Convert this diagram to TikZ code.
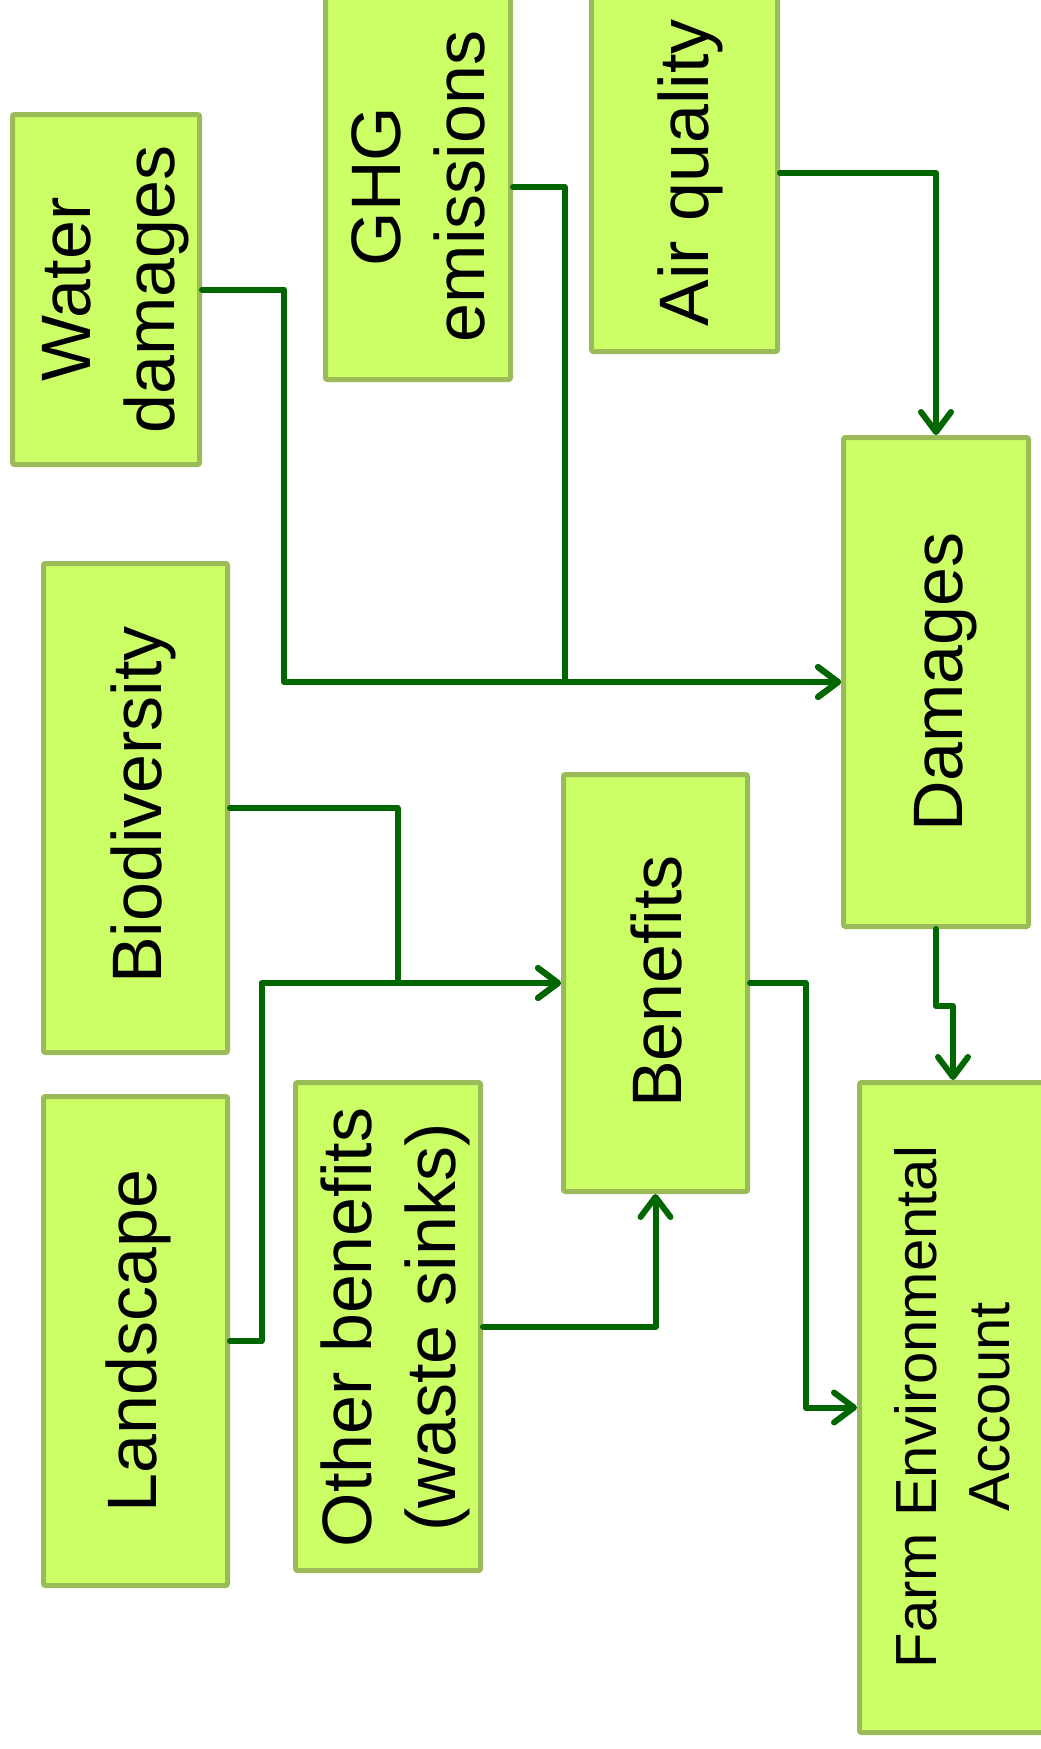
\documentclass[tikz,border=0pt]{standalone}
\usepackage{fontspec}
\setmainfont{Liberation Sans}
\usetikzlibrary{arrows.meta}
\definecolor{boxfill}{HTML}{CCFF66}
\definecolor{boxline}{HTML}{9BBB59}
\definecolor{flow}{HTML}{006600}
\begin{document}
\begin{tikzpicture}[x=1pt,y=-1pt,
  box/.style={draw=boxline, fill=boxfill, line width=5pt, rounded corners=2pt, inner sep=0pt},
  lbl/.style={rotate=90, align=center, inner sep=0pt, font=\fontsize{70}{84}\selectfont},
  small/.style={font=\fontsize{58}{73}\selectfont},
  flowline/.style={draw=flow, line width=6pt, line join=round, line cap=round},
  arr/.style={flowline, -{Straight Barb[length=20pt,width=30pt,line cap=round,line join=round]}}]
\useasboundingbox (0,0) rectangle (1041,1749);
\clip (0,0) rectangle (1041,1749);

% boxes
\node[box, minimum width=187pt, minimum height=350pt] (water)  at (106,289.5) {};
\node[box, minimum width=185pt, minimum height=385pt] (ghg)    at (418,187) {};
\node[box, minimum width=186pt, minimum height=357pt] (air)    at (684.5,173) {};
\node[box, minimum width=185pt, minimum height=489pt] (damages) at (936,682) {};
\node[box, minimum width=184pt, minimum height=489pt] (bio)    at (135.5,808) {};
\node[box, minimum width=184pt, minimum height=417pt] (benefits) at (655.5,983) {};
\node[box, minimum width=184pt, minimum height=489pt] (land)   at (135.5,1341) {};
\node[box, minimum width=185pt, minimum height=488pt] (other)  at (388,1326.5) {};
\node[box, minimum width=187pt, minimum height=650pt] (fea)    at (953,1407.5) {};

% labels
\node[lbl] (water-t)    at (116,289.5)   {Water\\damages};
\node[lbl] (ghg-t)      at (418.5,186.5) {GHG\\emissions};
\node[lbl] (air-t)      at (690.5,173)   {Air quality};
\node[lbl] (damages-t)  at (946,682)     {Damages};
\node[lbl] (bio-t)      at (143,805)     {Biodiversity};
\node[lbl] (benefits-t) at (656,981.5)   {Benefits};
\node[lbl] (land-t)     at (138,1341)    {Landscape};
\node[lbl] (other-t)    at (395,1327.5)  {Other benefits\\(waste sinks)};
\node[lbl, small] (fea-t) at (952.5,1407) {Farm Environmental\\Account};

% flows
\draw[arr] (water.east) -- ++(82,0) |- (damages.west);
\draw[arr] (ghg.east) -- ++(51.5,0) |- (damages.west);
\draw[arr] (air.east) -| (damages.north);
\draw[arr] (bio.east) -- ++(167.5,0) |- (benefits.west);
\draw[arr] (land.east) -- ++(31.5,0) |- (benefits.west);
\draw[arr] (other.east) -| (benefits.south);
\draw[arr] (benefits.east) -- ++(55.5,0) |- (fea.west);
\draw[arr] (damages.south) -- ++(0,77) -| (fea.north);
\end{tikzpicture}
\end{document}
